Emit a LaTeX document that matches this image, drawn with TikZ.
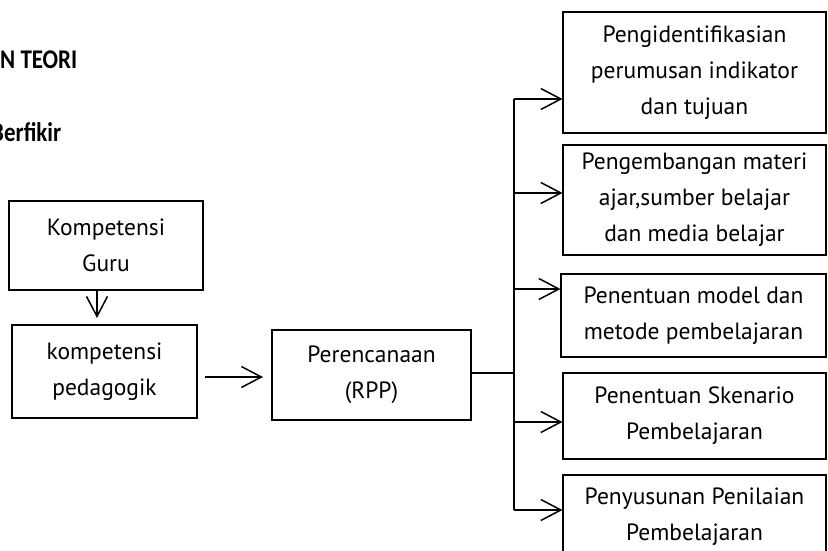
\documentclass[tikz,border=0pt]{standalone}
\usepackage{fontspec}
\setmainfont{PT Sans}
\newfontfamily\titlefont[FakeStretch=0.85]{Carlito}
\usetikzlibrary{arrows.meta}
\tikzset{
  box/.style={draw, line width=1.1pt, inner sep=0pt, align=center,
    font=\fontsize{23.5}{36}\selectfont},
  arr/.style={line width=1.5pt, -{Straight Barb[length=20pt,width=21pt]}},
  ln/.style={line width=1.1pt},
  ttl/.style={inner sep=0pt, anchor=base west, font=\titlefont\bfseries\fontsize{27}{32}\selectfont}
}
\begin{document}
\begin{tikzpicture}[x=1pt,y=-1pt]
\useasboundingbox (0,0) rectangle (828,551);
\node[ttl] (t1) at (0,69) {N TEORI};
\node[ttl] (t2) at (-9,142) {Berfikir};

\node[box, minimum width=194pt, minimum height=89pt] (kg) at (106,245.5) {Kompetensi\\Guru};
\node[box, minimum width=185pt, minimum height=93pt] (kp) at (104.5,371.5) {kompetensi\\pedagogik};
\node[box, minimum width=199pt, minimum height=90pt] (rpp) at (371.5,375) {Perencanaan\\(RPP)};

\node[box, minimum width=263pt, minimum height=121pt] (b1) at (694.5,72.5) {Pengidentifikasian\\perumusan indikator\\dan tujuan};
\node[box, minimum width=263pt, minimum height=110pt] (b2) at (694.5,200) {Pengembangan materi\\ajar,sumber belajar\\dan media belajar};
\node[box, minimum width=265pt, minimum height=83pt] (b3) at (693.5,315.5) {Penentuan model dan\\metode pembelajaran};
\node[box, minimum width=263pt, minimum height=86pt] (b4) at (694.5,416) {Penentuan Skenario\\Pembelajaran};
\node[box, minimum width=263pt, minimum height=84pt] (b5) at (694.5,517) {Penyusunan Penilaian\\Pembelajaran};

\coordinate (d1) at (97,290);
\coordinate (d2) at (97,318);
\draw[arr] (d1) -- (d2);
\coordinate (h1) at (205,377);
\coordinate (h2) at (263,377);
\draw[arr] (h1) -- (h2);

\coordinate (j1) at (514,99);
\coordinate (j2) at (514,193);
\coordinate (j3) at (514,289);
\coordinate (j4) at (514,422);
\coordinate (j5) at (514,510);
\coordinate (jr) at (514,373);
\draw[ln] (rpp.east |- jr) -- (jr);
\draw[ln] (j1) -- (j5);
\draw[arr] (j1) -- (j1 -| b1.west);
\draw[arr] (j2) -- (j2 -| b2.west);
\draw[arr] (j3) -- (j3 -| b3.west);
\draw[arr] (j4) -- (j4 -| b4.west);
\draw[arr] (j5) -- (j5 -| b5.west);
\end{tikzpicture}
\end{document}
